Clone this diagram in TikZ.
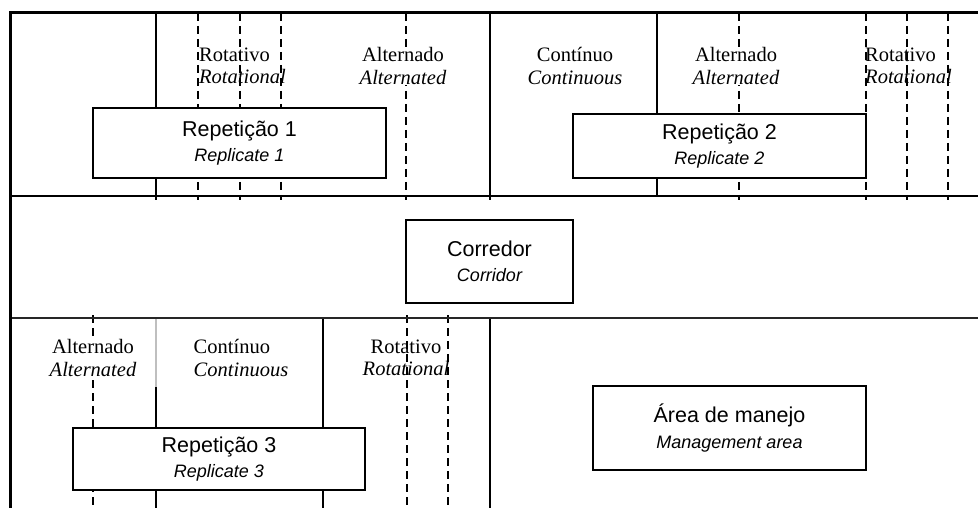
\documentclass[tikz,border=0pt]{standalone}
\usepackage{fontspec}
\setmainfont{Liberation Serif}
\setsansfont{Liberation Sans}
\tikzset{
  frameline/.style={line width=3pt},
  sepline/.style={line width=1.3pt},
  plotline/.style={line width=1.2pt},
  plotdash/.style={line width=2pt, dash pattern=on 8pt off 5pt},
  thickline/.style={line width=2.6pt},
  labbox/.style={draw, line width=1.2pt, fill=white, inner sep=0pt, align=center,
    font=\fontsize{21.5}{25.5}\selectfont\sffamily},
  treat/.style={inner sep=1pt, font=\fontsize{20.5}{22.5}\selectfont\rmfamily},
  treatw/.style={treat, fill=white},
}
\newcommand{\mainlab}{\fontsize{21.5}{25.5}\selectfont\sffamily}
\newcommand{\sublab}{\fontsize{18}{25.5}\selectfont\sffamily\itshape}
\begin{document}
\begin{tikzpicture}[x=1pt,y=-1pt]
\useasboundingbox (0,0) rectangle (978,508);
% --- top block lines
\draw[plotline] (156,13) -- (156,200);
\foreach \xx in {198,240,281,406,739,866,907,948}
  \draw[plotdash] (\xx,13) -- (\xx,200);
\draw[thickline] (490,13) -- (490,200);
\draw[plotline] (657,13) -- (657,196);
% --- bottom block lines
\foreach \xx in {93,407,448}
  \draw[plotdash] (\xx,315) -- (\xx,508);
\draw[plotline, black!25] (156,318) -- (156,387);
\draw[plotline] (156,387) -- (156,508);
\draw[plotline] (323,318) -- (323,508);
\draw[plotline] (490,318) -- (490,508);
% --- separators and frame
\draw[sepline] (10,196) -- (978,196);
\draw[sepline, black!85] (10,318) -- (978,318);
\draw[frameline] (978,13) -- (10,13) -- (10,508);
% --- treatment labels
\node[treat, align=left] (rot1) at (242.5,66) {Rotativo\\\itshape Rotational};
\node[treatw, align=center] (alt1) at (403,66) {Alternado\\\itshape Alternated};
\node[treat, align=center] (con2) at (575,66) {Contínuo\\\itshape Continuous};
\node[treatw, align=center] (alt2) at (736,66) {Alternado\\\itshape Alternated};
\node[treat, align=left] (rot2) at (908.5,66) {Rotativo\\\itshape Rotational};
\node[treatw, align=center] (alt3) at (93,358) {Alternado\\\itshape Alternated};
\node[treat, align=left] (con3) at (241,358) {Contínuo\\\itshape Continuous};
\node[treat, align=center] (rot3) at (406,358) {Rotativo\\\itshape Rotational};
% --- boxes
\node[labbox, minimum width=293pt, minimum height=70pt] (rep1) at (239.5,143)
  {\mainlab Repetição 1\\\sublab Replicate 1};
\node[labbox, minimum width=293pt, minimum height=64pt] (rep2) at (719.5,146)
  {\mainlab Repetição 2\\\sublab Replicate 2};
\node[labbox, minimum width=167pt, minimum height=83pt] (corr) at (489.5,261.5)
  {\mainlab Corredor\\\sublab Corridor};
\node[labbox, minimum width=292pt, minimum height=62pt] (rep3) at (219,459)
  {\mainlab Repetição 3\\\sublab Replicate 3};
\node[labbox, minimum width=273pt, minimum height=84pt] (mgmt) at (729.5,428)
  {\mainlab Área de manejo\\\sublab Management area};
\end{tikzpicture}
\end{document}
